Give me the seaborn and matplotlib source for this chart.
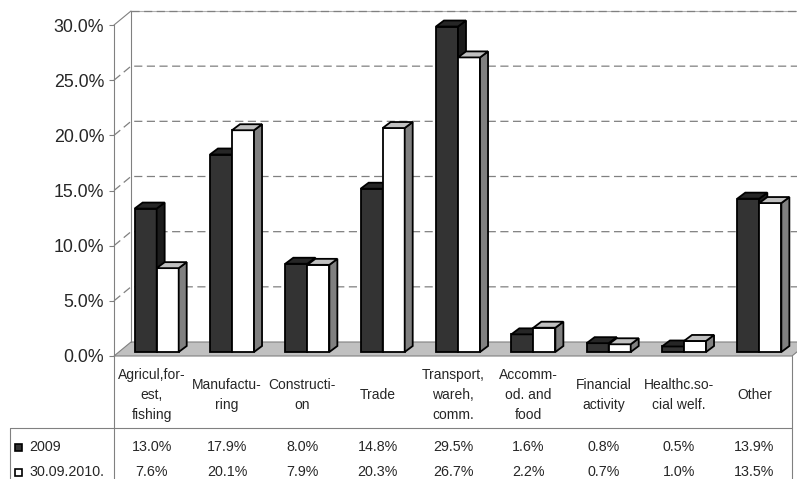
import matplotlib
matplotlib.use("Agg")
import matplotlib.pyplot as plt
import numpy as np
import pandas as pd
import seaborn as sns
from matplotlib.transforms import ScaledTranslation, IdentityTransform, blended_transform_factory
from matplotlib.patches import Polygon, Rectangle
from matplotlib.lines import Line2D

# ---- data -------------------------------------------------------------
categories = [
    "Agricul,for-\nest,\nfishing",
    "Manufactu-\nring",
    "Constructi-\non",
    "Trade",
    "Transport,\nwareh,\ncomm.",
    "Accomm-\nod. and\nfood",
    "Financial\nactivity",
    "Healthc.so-\ncial welf.",
    "Other",
]
series_names = ["2009", "30.09.2010."]
values_2009 = [13.0, 17.9, 8.0, 14.8, 29.5, 1.6, 0.8, 0.5, 13.9]
values_2010 = [7.6, 20.1, 7.9, 20.3, 26.7, 2.2, 0.7, 1.0, 13.5]
y_ticks = [0, 5, 10, 15, 20, 25, 30]

df = pd.DataFrame({
    "category": categories * 2,
    "value": values_2009 + values_2010,
    "series": [series_names[0]] * len(categories) + [series_names[1]] * len(categories),
})

# ---- style ------------------------------------------------------------
sns.set_style("white")
plt.rcParams["font.family"] = ["Liberation Sans", "DejaVu Sans"]

W, H, DPI = 797, 479, 100
fig = plt.figure(figsize=(W / DPI, H / DPI), dpi=DPI)
ax = fig.add_axes([114 / W, 123 / H, 678 / W, 331 / H])

front = {"2009": "#333333", "30.09.2010.": "#ffffff"}
side = {"2009": "#1c1c1c", "30.09.2010.": "#808080"}
top = {"2009": "#262626", "30.09.2010.": "#c0c0c0"}
grid_c = "#808080"

sns.barplot(data=df, x="category", y="value", hue="series", order=categories,
            hue_order=series_names, palette=front, saturation=1, width=0.585,
            edgecolor="black", linewidth=1.3, legend=False, ax=ax)

ax.set_xlim(-0.5, len(categories) - 0.5)
ax.set_ylim(0, 30)
ax.set_autoscale_on(False)
ax.set_xticks([])
ax.set_xlabel("")
ax.set_ylabel("")
ax.set_yticks(y_ticks)
ax.set_yticklabels([f"{v:.1f}%" for v in y_ticks])
ax.tick_params(axis="y", length=3.6, width=0.8, color=grid_c, labelsize=12.8, pad=3.4,
               left=True)
for s in ["top", "right", "bottom"]:
    ax.spines[s].set_visible(False)
ax.spines["left"].set_color(grid_c)
ax.spines["left"].set_linewidth(0.8)
ax.spines["left"].set_zorder(0.5)
ax.set_facecolor("none")

# depth of the box (walls / floor) and of each column, in pixels
wall_dx, wall_dy = 17, 14
bar_shift = (5, 4)
bar_dx, bar_dy = 8, 6

ident = IdentityTransform()


def to_px(x, y):
    return ax.transData.transform((x, y))


x_lo, x_hi = -0.5, len(categories) - 0.5

# floor
f0, f1 = to_px(x_lo, 0), to_px(x_hi, 0)
floor = Polygon([f0, f1, f1 + (wall_dx, wall_dy), f0 + (wall_dx, wall_dy)],
                closed=True, facecolor="#c0c0c0", edgecolor=grid_c, lw=0.8,
                transform=ident, zorder=1, clip_on=False)
ax.add_patch(floor)

# back wall edge, top edge and dashed gridlines
b0 = to_px(x_lo, 0) + (wall_dx, wall_dy)
b1 = to_px(x_lo, 30) + (wall_dx, wall_dy)
ax.add_line(Line2D([b0[0], b1[0]], [b0[1], b1[1]], color=grid_c, lw=0.8,
                   transform=ident, zorder=1.2, clip_on=False))
ft = to_px(x_lo, 30)
ax.add_line(Line2D([ft[0], b1[0]], [ft[1], b1[1]], color=grid_c, lw=0.8,
                   transform=ident, zorder=1.2, clip_on=False))
far_x = fig.bbox.width + 50
for v in y_ticks[1:]:
    p = to_px(x_lo, v)
    q = p + (wall_dx, wall_dy)
    ls = (0, (6.5, 3.6))
    if v == 30:
        ax.add_line(Line2D([q[0], far_x], [q[1], q[1]], color="#b0b0b0", lw=0.8,
                           transform=ident, zorder=1.1, clip_on=False))
        xs, ys = [q[0], far_x], [q[1], q[1]]
    else:
        xs, ys = [p[0], q[0], far_x], [p[1], q[1], q[1]]
    ax.add_line(Line2D(xs, ys, color=grid_c, lw=0.9, ls=ls,
                       transform=ident, zorder=1.2, clip_on=False))

# columns: shift the fronts back, then add side and top faces
shift = ScaledTranslation(bar_shift[0] / DPI, bar_shift[1] / DPI, fig.dpi_scale_trans)
n = len(categories)
bars = [p for p in ax.patches if isinstance(p, Rectangle) and p is not floor]
for k, bar in enumerate(bars):
    s_idx, c_idx = divmod(k, n)
    name = series_names[s_idx]
    z = 3 + c_idx * 0.1 + s_idx * 0.05
    bar.set_transform(ax.transData + shift)
    bar.set_clip_on(False)
    bar.set_zorder(z)
    x0, w, h = bar.get_x(), bar.get_width(), bar.get_height()
    bl = to_px(x0, 0) + bar_shift
    br = to_px(x0 + w, 0) + bar_shift
    tl = to_px(x0, h) + bar_shift
    tr = to_px(x0 + w, h) + bar_shift
    d = np.array([bar_dx, bar_dy])
    ax.add_patch(Polygon([br, br + d, tr + d, tr], closed=True, facecolor=side[name],
                         edgecolor="black", lw=1.3, joinstyle="miter",
                         transform=ident, zorder=z + 0.01, clip_on=False))
    ax.add_patch(Polygon([tl, tl + d, tr + d, tr], closed=True, facecolor=top[name],
                         edgecolor="black", lw=1.3, joinstyle="miter",
                         transform=ident, zorder=z + 0.02, clip_on=False))

# ---- data table ---------------------------------------------------------
def fx(x):
    return x / W


def fy(y):
    return 1 - y / H


table_c = "#808080"
fig.add_artist(Line2D([fx(10), fx(792)], [fy(428), fy(428)], color=table_c, lw=0.8))
fig.add_artist(Line2D([fx(10), fx(10)], [fy(428), fy(480)], color=table_c, lw=0.8))
fig.add_artist(Line2D([fx(114), fx(114)], [fy(356), fy(480)], color=table_c, lw=0.8))
fig.add_artist(Line2D([fx(792), fx(792)], [fy(356), fy(480)], color=table_c, lw=0.8))

label_tr = ax.transData + ScaledTranslation(0, -39 / DPI, fig.dpi_scale_trans)
for i, lab in enumerate(categories):
    ax.text(i, 0, lab, transform=label_tr, ha="center", va="center", fontsize=10,
            linespacing=1.55, clip_on=False)

row_tr = blended_transform_factory(ax.transData, fig.transFigure)
for vals, yrow in [(values_2009, 447), (values_2010, 472)]:
    for i, v in enumerate(vals):
        ax.text(i, fy(yrow), f"{v:.1f}%", transform=row_tr, ha="center", va="center",
                fontsize=10.3, clip_on=False)

for name, yrow in zip(series_names, [447, 472]):
    fig.add_artist(Rectangle((fx(15), fy(yrow + 3.5)), 7 / W, 7 / H,
                             facecolor=front[name], edgecolor="black", lw=1.2,
                             transform=fig.transFigure))
    fig.text(fx(29), fy(yrow), name, ha="left", va="center", fontsize=10.3)

fig.savefig("out.png", dpi=DPI)
